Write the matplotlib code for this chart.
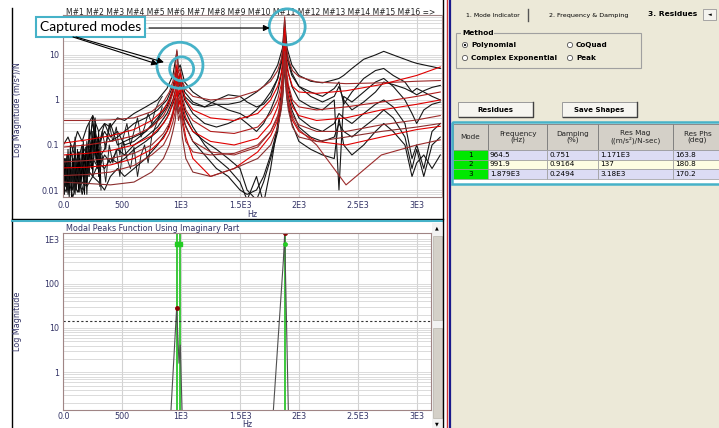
import numpy as np
import matplotlib
matplotlib.use('Agg')
import matplotlib.pyplot as plt
from matplotlib.patches import Rectangle, Circle
from matplotlib.ticker import LogLocator, NullFormatter

# ---------------- data ----------------
TICK_POS = [0, 500, 1000, 1500, 2000, 2500, 3000]
TICK_LABELS = ['0.0', '500', '1E3', '1.5E3', '2E3', '2.5E3', '3E3']

# fitted (red) curves share one frequency grid
RED_F = [0, 200, 400, 600, 750, 850, 900, 930, 950, 964, 978, 992, 1010, 1040, 1100, 1250,
         1450, 1650, 1760, 1820, 1850, 1866, 1879, 1892, 1910, 1945, 2000, 2150, 2400, 2700, 3000, 3200]
RED_A = [0.35, 0.35, 0.36, 0.4, 0.55, 0.9, 1.5, 2.6, 4.5, 13, 4, 5, 2.6, 1.7, 1.2, 1.0,
         1.1, 1.6, 2.6, 4.5, 8, 16, 70, 16, 8, 4.5, 3.3, 2.5, 2.3, 2.4, 2.6, 2.7]
RED_B = [0.11, 0.13, 0.16, 0.22, 0.35, 0.6, 1.0, 1.8, 3.0, 6, 2.8, 4, 1.8, 1.0, 0.6, 0.4,
         0.35, 0.5, 1.0, 2.0, 4, 9, 40, 9, 4, 2.0, 1.5, 1.4, 1.6, 2.2, 3.5, 5.4]
RED_C = [0.09, 0.1, 0.12, 0.16, 0.25, 0.45, 0.8, 1.4, 2.2, 4, 2, 2.5, 1.2, 0.6, 0.35, 0.2,
         0.18, 0.25, 0.5, 1.0, 2.2, 5, 25, 5, 2.2, 1.0, 0.7, 0.6, 0.7, 0.9, 1.2, 1.5]
RED_D = [0.06, 0.065, 0.075, 0.1, 0.16, 0.3, 0.5, 0.9, 1.5, 3, 1.3, 1.8, 0.8, 0.4, 0.2, 0.12,
         0.1, 0.14, 0.3, 0.7, 1.5, 3.5, 18, 3.5, 1.5, 0.7, 0.45, 0.35, 0.4, 0.6, 0.8, 1.0]
RED_E = [0.042, 0.045, 0.05, 0.065, 0.1, 0.18, 0.3, 0.55, 1.0, 2.2, 0.9, 1.3, 0.55, 0.25, 0.12, 0.07,
         0.06, 0.09, 0.2, 0.45, 1.0, 2.5, 12, 2.5, 1.0, 0.45, 0.28, 0.2, 0.2, 0.28, 0.36, 0.45]
RED_F_ = [0.031, 0.032, 0.036, 0.05, 0.08, 0.14, 0.25, 0.45, 0.8, 1.6, 0.7, 1.0, 0.4, 0.15, 0.05, 0.02,
          0.03, 0.07, 0.16, 0.35, 0.8, 2.0, 9, 2.0, 0.8, 0.35, 0.2, 0.12, 0.1, 0.15, 0.22, 0.26]
RED_G = [0.021, 0.022, 0.025, 0.035, 0.06, 0.1, 0.18, 0.32, 0.55, 1.1, 0.5, 0.7, 0.3, 0.12, 0.07, 0.06,
         0.065, 0.1, 0.2, 0.4, 0.9, 2.2, 10, 2.2, 0.9, 0.4, 0.22, 0.1, 0.013, 0.06, 0.1, 0.13]
RED_H = [0.015, 0.014, 0.013, 0.015, 0.025, 0.05, 0.1, 0.2, 0.35, 0.8, 0.35, 0.5, 0.15, 0.05, 0.025, 0.02,
         0.03, 0.05, 0.1, 0.25, 0.6, 1.5, 8, 1.5, 0.6, 0.25, 0.15, 0.12, 0.15, 0.2, 0.25, 0.3]

# measured (black) curves share another grid
BLK_F = [0, 40, 80, 120, 160, 200, 250, 300, 350, 400, 460, 520, 600, 700, 800, 880, 930, 964, 978, 992,
         1030, 1100, 1200, 1300, 1400, 1500, 1560, 1640, 1700, 1760, 1820, 1860, 1879, 1900, 1940,
         2000, 2100, 2200, 2300, 2340, 2380, 2450, 2550, 2650, 2720, 2800, 2900, 2960, 3000, 3060, 3130, 3200]
BLK_1 = [0.1, 0.15, 0.08, 0.2, 0.12, 0.25, 0.45, 0.2, 0.3, 0.25, 0.4, 0.35, 0.5, 0.7, 1.0, 1.8, 3.5, 12, 5, 6,
         2.5, 1.5, 1.0, 0.8, 0.8, 0.9, 1.1, 1.5, 2.0, 3.0, 6, 14, 60, 14, 6,
         3.5, 2.6, 2.4, 2.8, 3.0, 3.5, 5, 8, 10, 12, 10, 8, 7, 6.5, 6, 5.5, 5]
BLK_2 = [0.03, 0.06, 0.02, 0.05, 0.04, 0.08, 0.3, 0.1, 0.2, 0.12, 0.15, 0.2, 0.3, 0.4, 0.6, 1.0, 2.0, 5, 2.5, 4,
         1.5, 0.9, 0.7, 0.8, 0.6, 0.5, 0.4, 0.6, 0.9, 1.5, 3, 8, 30, 8, 3.5,
         2.0, 1.5, 1.2, 1.8, 2.5, 0.8, 1.5, 3, 4.5, 5, 3.5, 2.5, 1.5, 1.8, 1.5, 1.2, 1.0]
BLK_3 = [0.02, 0.01, 0.03, 0.015, 0.04, 0.02, 0.1, 0.05, 0.08, 0.3, 0.1, 0.12, 0.15, 0.2, 0.35, 0.7, 1.5, 3, 1.8, 2.5,
         1.0, 0.5, 0.3, 0.25, 0.3, 0.4, 0.3, 0.2, 0.3, 0.6, 1.5, 5, 20, 5, 2.0,
         1.0, 0.7, 0.6, 1.0, 0.01, 1.2, 0.9, 1.5, 2.5, 3, 2, 1.0, 0.5, 0.3, 0.6, 0.8, 0.9]
BLK_4 = [0.015, 0.04, 0.01, 0.03, 0.008, 0.02, 0.05, 0.03, 0.06, 0.04, 0.08, 0.06, 0.1, 0.15, 0.25, 0.5, 1.0, 2.2, 1.2, 1.5,
         0.6, 0.25, 0.1, 0.05, 0.03, 0.015, 0.006, 0.02, 0.005, 0.03, 0.3, 2.5, 12, 2.5, 0.9,
         0.4, 0.25, 0.2, 0.3, 0.5, 0.4, 0.3, 0.5, 0.8, 1.0, 0.7, 0.3, 0.05, 0.1, 0.03, 0.2, 0.3]
BLK_5 = [0.01, 0.02, 0.007, 0.015, 0.01, 0.03, 0.02, 0.04, 0.03, 0.05, 0.04, 0.05, 0.08, 0.12, 0.2, 0.4, 0.8, 1.5, 0.8, 1.0,
         0.4, 0.2, 0.12, 0.08, 0.05, 0.03, 0.01, 0.006, 0.015, 0.05, 0.2, 1.5, 8, 1.5, 0.6,
         0.25, 0.15, 0.12, 0.15, 0.3, 0.2, 0.15, 0.25, 0.4, 0.6, 0.4, 0.15, 0.03, 0.08, 0.02, 0.1, 0.15]
BLK_6 = [0.05, 0.03, 0.08, 0.04, 0.1, 0.06, 0.15, 0.1, 0.3, 0.15, 0.2, 0.1, 0.12, 0.2, 0.4, 0.8, 1.6, 4, 2, 2.5,
         1.2, 0.8, 0.7, 1.0, 1.3, 1.2, 0.9, 0.7, 0.8, 1.2, 3, 10, 45, 10, 4,
         2.0, 1.2, 0.9, 1.2, 2.0, 1.0, 0.6, 0.9, 1.5, 2.5, 2.2, 1.8, 1.5, 1.3, 1.6, 1.9, 2.1]
BLK_7 = [0.008, 0.012, 0.02, 0.009, 0.015, 0.012, 0.02, 0.015, 0.01, 0.02, 0.03, 0.02, 0.03, 0.05, 0.1, 0.2, 0.5, 1.0, 0.5, 0.7,
         0.3, 0.12, 0.06, 0.03, 0.02, 0.01, 0.008, 0.01, 0.02, 0.06, 0.25, 1.0, 5, 1.0, 0.3,
         0.12, 0.08, 0.06, 0.05, 0.4, 0.1, 0.06, 0.1, 0.2, 0.3, 0.2, 0.1, 0.02, 0.04, 0.06, 0.03, 0.06]

# noisy low-frequency part of the measurements
LF_F = list(range(0, 330, 10))
LF_1 = [0.02, 0.008, 0.05, 0.01, 0.03, 0.007, 0.04, 0.012, 0.06, 0.009, 0.03, 0.015, 0.08, 0.01, 0.05, 0.02, 0.1,
        0.015, 0.06, 0.03, 0.12, 0.02, 0.08, 0.04, 0.25, 0.45, 0.15, 0.05, 0.1, 0.03, 0.08, 0.012, 0.05]
LF_2 = [0.007, 0.03, 0.012, 0.06, 0.008, 0.02, 0.1, 0.01, 0.025, 0.05, 0.008, 0.04, 0.015, 0.07, 0.009, 0.03, 0.02,
        0.12, 0.01, 0.05, 0.008, 0.06, 0.02, 0.1, 0.03, 0.2, 0.06, 0.3, 0.04, 0.15, 0.02, 0.07, 0.01]
LF_3 = [0.012, 0.05, 0.02, 0.009, 0.08, 0.015, 0.03, 0.007, 0.05, 0.02, 0.15, 0.01, 0.04, 0.009, 0.07, 0.012, 0.03,
        0.06, 0.008, 0.09, 0.015, 0.04, 0.3, 0.05, 0.12, 0.02, 0.08, 0.4, 0.1, 0.05, 0.2, 0.03, 0.09]
MID_F = list(range(300, 860, 30))
MID_1 = [0.05, 0.2, 0.08, 0.3, 0.12, 0.25, 0.06, 0.15, 0.3, 0.1, 0.2, 0.4, 0.15, 0.25, 0.5, 0.3, 0.6, 0.9, 1.2]
MID_2 = [0.02, 0.06, 0.015, 0.1, 0.04, 0.08, 0.02, 0.12, 0.05, 0.03, 0.09, 0.02, 0.06, 0.1, 0.04, 0.15, 0.25, 0.4, 0.7]

# modal peaks function (bottom chart)
MPF1_F = [900, 914, 962, 982, 993, 1008, 1020]
MPF1_V = [0.08, 0.14, 28, 1.6, 4.1, 0.14, 0.08]
MPF2_F = [1770, 1783, 1868, 1879, 1910, 1925]
MPF2_V = [0.08, 0.14, 336, 1360, 0.14, 0.08]
PEAK_PICK_F = [964.5, 1879.0]
PEAK_PICK_V = [28, 1360]
MARK_V = 800
THRESHOLD = 14.4

# residue table
MODE_ID = ['1', '2', '3']
MODE_FREQ = [964.5, 991.9, 1879.0]
FREQ_TXT = ['964.5', '991.9', '1.879E3']
DAMP_TXT = ['0.751', '0.9164', '0.2494']
RESMAG_TXT = ['1.171E3', '137', '3.18E3']
RESPHS_TXT = ['163.8', '180.8', '170.2']
HEADERS = ['Mode', 'Frequency\n(Hz)', 'Damping\n(%)', 'Res Mag\n((m/s²)/N-sec)', 'Res Phs\n(deg)']

W, H = 719, 428
NAVY = '#333366'
CYAN = '#46b2c8'
BEIGE = '#ece9d8'
plt.rcParams['font.family'] = ['DejaVu Sans']

fig = plt.figure(figsize=(W / 100, H / 100), dpi=100)


def box(x0, y0, x1, y1):
    # pixel box with top-left origin -> figure fraction rect
    return [x0 / W, 1 - y1 / H, (x1 - x0) / W, (y1 - y0) / H]


# background "window" layer in pixel coordinates
ui = fig.add_axes([0, 0, 1, 1], zorder=0)
ui.set_xlim(0, W)
ui.set_ylim(H, 0)
ui.axis('off')


def style_axes(ax):
    ax.set_yscale('log')
    ax.set_xticks(TICK_POS)
    ax.set_xticklabels(TICK_LABELS)
    ax.yaxis.set_minor_locator(LogLocator(base=10, subs=np.arange(2, 10)))
    ax.yaxis.set_minor_formatter(NullFormatter())
    ax.grid(True, axis='x', color='#d2d2d2', lw=0.8)
    ax.grid(True, axis='y', which='both', color='#d6d6d6', lw=0.6)
    ax.tick_params(which='both', length=0, labelsize=5.8, labelcolor=NAVY, pad=3)
    for s in ax.spines.values():
        s.set_color('#a08585')
        s.set_linewidth(0.8)
    ax.set_xlabel('Hz', fontsize=5.8, color=NAVY, labelpad=0)


# ---------------- top chart: FRFs with fits ----------------
top = fig.add_axes(box(63.3, 15, 441.7, 196.7), zorder=2)
style_axes(top)
top.set_xlim(0, 3212)
top.set_ylim(0.0071, 77)
top.set_yticks([0.01, 0.1, 1, 10])
top.set_yticklabels(['0.01', '0.1', '1', '10'])
top.set_ylabel('Log Magnitude (m/s²)/N', fontsize=5.8, color=NAVY)
top.yaxis.set_label_coords(-0.109, 0.48)

for vals in [LF_1, LF_2, LF_3]:
    top.plot(LF_F, vals, color='black', lw=0.7)
for vals in [MID_1, MID_2]:
    top.plot(MID_F, vals, color='#202020', lw=0.7)
for vals in [BLK_1, BLK_2, BLK_3, BLK_4, BLK_5, BLK_6, BLK_7]:
    top.plot(BLK_F, vals, color='#151515', lw=0.8)
red_cols = ['#9c2b2b', '#e00000', '#b01c1c', '#e00000', '#9c2b2b', '#e00000', '#9c2b2b', '#8a2e2e']
for vals, c in zip([RED_A, RED_B, RED_C, RED_D, RED_E, RED_F_, RED_G, RED_H], red_cols):
    top.plot(RED_F, vals, color=c, lw=0.8)

# ---------------- bottom chart: modal peaks function ----------------
bot = fig.add_axes(box(63.3, 232.7, 431, 410), zorder=2)
style_axes(bot)
bot.tick_params(axis='x', pad=1.5)
bot.set_xlim(0, 3121)
bot.set_ylim(0.141, 1410)
bot.set_yticks([1, 10, 100, 1000])
bot.set_yticklabels(['1', '10', '100', '1E3'])
bot.set_ylabel('Log Magnitude', fontsize=5.8, color=NAVY)
bot.yaxis.set_label_coords(-0.112, 0.5)
bot.xaxis.set_label_coords(0.5, -0.058)
for f in MODE_FREQ:
    bot.axvline(f, color='#3cc83c', lw=1.4)
bot.plot(MPF1_F, MPF1_V, color='#505050', lw=0.8)
bot.plot(MPF2_F, MPF2_V, color='#505050', lw=0.8)
bot.plot(MODE_FREQ[:2], [MARK_V, MARK_V], 's', color='#22cc22', ms=3)
bot.plot(MODE_FREQ[2:], [MARK_V], 'o', color='#22cc22', ms=2.5)
bot.plot(PEAK_PICK_F, PEAK_PICK_V, 'o', color='#8b0000', ms=2.5)
bot.axhline(THRESHOLD, color='#333333', lw=0.8, ls=(0, (2, 2)))

# ---------------- window chrome ----------------
ui.add_patch(Rectangle((451, 0), W - 451, H, fc=BEIGE, ec='none'))
ui.plot([12, 12], [8, 219], color='black', lw=1)
ui.plot([12, 443], [219, 219], color='black', lw=1)
ui.plot([12, 443], [221, 221], color=CYAN, lw=1.5)
ui.plot([12, 12], [222, H], color='black', lw=1)
ui.plot([443, 443], [0, H], color='black', lw=1)
ui.plot([446.5, 446.5], [0, H], color='#cc3333', lw=1)
ui.plot([449.5, 449.5], [0, H], color='#1a1a8c', lw=1.6)
ui.text(66, 12, 'M#1 M#2 M#3 M#4 M#5 M#6 M#7 M#8 M#9 M#10 M#11 M#12 M#13 M#14 M#15 M#16 =>',
        fontsize=5.5, color='#222222', va='center', ha='left')
ui.text(66, 228, 'Modal Peaks Function Using Imaginary Part', fontsize=5.8, color=NAVY,
        va='center', ha='left')
# scrollbar of the lower chart
ui.add_patch(Rectangle((432, 223), 10, H - 223, fc='#f2f2f2', ec='none'))
ui.add_patch(Rectangle((432.5, 236), 9, 84, fc='#d4d0c8', ec='#b8b4ac', lw=0.5))
ui.add_patch(Rectangle((432.5, 328), 9, 90, fc='#d4d0c8', ec='#b8b4ac', lw=0.5))
ui.text(437, 228, '▲', fontsize=3.5, ha='center', va='center')
ui.text(437, 424, '▼', fontsize=3.5, ha='center', va='center')

# tabs
ui.text(493, 15, '1. Mode Indicator', fontsize=4.4, ha='center', va='center')
ui.plot([528, 528], [9, 21], color='#555555', lw=1)
ui.text(589, 15, '2. Frequency & Damping', fontsize=4.6, ha='center', va='center')
ui.text(673, 14, '3. Residues', fontsize=5.4, weight='bold', ha='center', va='center')
ui.add_patch(Rectangle((703, 9), 13, 11, fc='#f4f3ee', ec='#999999', lw=0.6))
ui.text(709.5, 14.5, '◄', fontsize=3.5, ha='center', va='center')

# method group
ui.add_patch(Rectangle((456, 33), 185, 35, fc='none', ec='#a0a0a0', lw=0.8))
ui.text(462, 33, 'Method', fontsize=5.3, weight='bold', va='center', ha='left',
        bbox=dict(fc=BEIGE, ec='none', pad=0.5))
radios = [(465, 45, 'Polynomial', True), (570, 45, 'CoQuad', False),
          (465, 58, 'Complex Exponential', False), (570, 58, 'Peak', False)]
for rx, ry, label, on in radios:
    ui.add_patch(Circle((rx, ry), 2.6, fc='white', ec='#555555', lw=0.6))
    if on:
        ui.add_patch(Circle((rx, ry), 1.1, fc='black', ec='none'))
    ui.text(rx + 6, ry, label, fontsize=5.2, weight='bold', va='center', ha='left')

# buttons
for bx0, bx1, label in [(458, 533, 'Residues'), (562, 637, 'Save Shapes')]:
    ui.add_patch(Rectangle((bx0, 102), bx1 - bx0, 15, fc='#f6f5f0', ec='#9a9a9a', lw=0.7))
    ui.plot([bx0 + 1, bx1, bx1], [117, 117, 102], color='#404040', lw=1)
    ui.text((bx0 + bx1) / 2, 109.5, label, fontsize=5.0, weight='bold', ha='center', va='center')

# residue table
COL_EDGES = [453, 488, 547, 598, 673, 722]
HEAD_Y0, HEAD_Y1, ROW_H = 124, 150, 9.5
ROW_COLORS = ['#dcdcf4', '#fdfde2', '#dcdcf4']
ui.add_patch(Rectangle((450, 122), W - 450 + 5, 62, fc='white', ec='none'))
for j, head in enumerate(HEADERS):
    x0, x1 = COL_EDGES[j], COL_EDGES[j + 1]
    ui.add_patch(Rectangle((x0, HEAD_Y0), x1 - x0, HEAD_Y1 - HEAD_Y0, fc='#d4d0c8', ec='#7a7a7a', lw=0.6))
    ui.text((x0 + x1) / 2, (HEAD_Y0 + HEAD_Y1) / 2, head, fontsize=5.2, ha='center', va='center',
            linespacing=1.0, color='#222222')
for i in range(len(MODE_ID)):
    y0 = HEAD_Y1 + i * ROW_H
    cells = [MODE_ID[i], FREQ_TXT[i], DAMP_TXT[i], RESMAG_TXT[i], RESPHS_TXT[i]]
    for j, txt in enumerate(cells):
        x0, x1 = COL_EDGES[j], COL_EDGES[j + 1]
        fc = '#00e800' if j == 0 else ROW_COLORS[i]
        ui.add_patch(Rectangle((x0, y0), x1 - x0, ROW_H, fc=fc, ec='#9a9a9a', lw=0.5))
        if j == 0:
            ui.text((x0 + x1) / 2, y0 + ROW_H / 2, txt, fontsize=5.2, ha='center', va='center')
        else:
            ui.text(x0 + 2, y0 + ROW_H / 2, txt, fontsize=5.2, ha='left', va='center')
ui.add_patch(Rectangle((452, 122), W - 452 + 5, 62, fc='none', ec=CYAN, lw=1.8))

# ---------------- annotation overlay ----------------
ov = fig.add_axes([0, 0, 1, 1], zorder=5)
ov.set_xlim(0, W)
ov.set_ylim(H, 0)
ov.axis('off')


def to_px(ax, x, y):
    dx, dy = ax.transData.transform((x, y))
    return dx * W / fig.bbox.width, H - dy * H / fig.bbox.height


p3x, p3y = to_px(top, MODE_FREQ[2], 70)
p1x, p1y = to_px(top, MODE_FREQ[0], 8)
p2x, p2y = to_px(top, MODE_FREQ[1], 4)
ov.add_patch(Circle((p3x + 2.5, p3y + 10), 18, fc='none', ec=CYAN, lw=2))
ov.add_patch(Circle((p1x + 3, p1y + 6), 23, fc='none', ec=CYAN, lw=2))
ov.add_patch(Circle((p2x + 1.5, p2y - 4), 12, fc='none', ec=CYAN, lw=2))
ov.text(90.5, 27, 'Captured modes', fontsize=10, family='Lato', ha='center', va='center',
        bbox=dict(boxstyle='square,pad=0.28', fc='white', ec=CYAN, lw=1.5))
arrow = dict(arrowstyle='-|>', color='black', lw=0.8, mutation_scale=9, shrinkA=0, shrinkB=0)
ov.annotate('', xy=(p3x - 15, 28), xytext=(149, 28), arrowprops=arrow)
ov.annotate('', xy=(p1x - 13, p1y + 3), xytext=(76, 37), arrowprops=arrow)
ov.annotate('', xy=(p1x - 19, p1y + 5), xytext=(73, 37), arrowprops=arrow)

fig.savefig('out.png', dpi=100)
